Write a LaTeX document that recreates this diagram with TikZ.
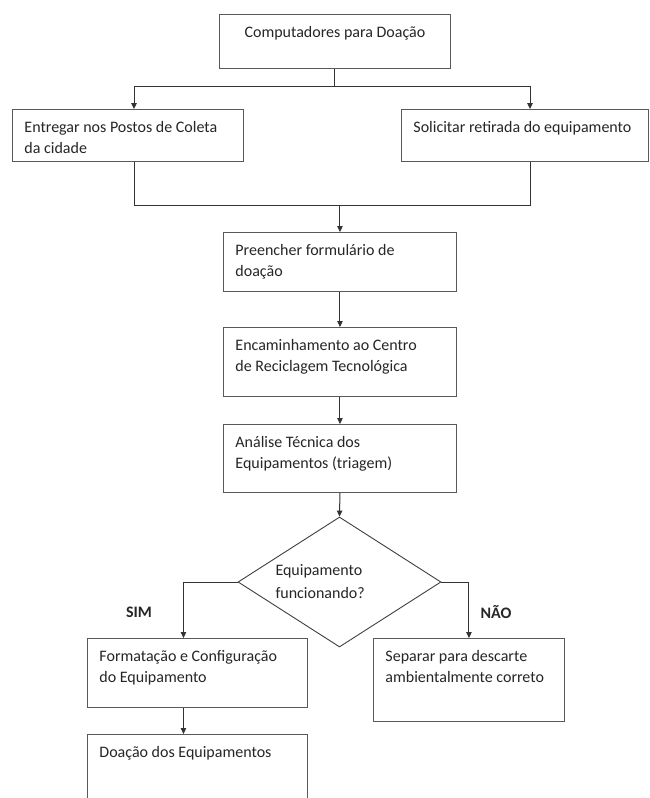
\documentclass[tikz,border=0pt]{standalone}
\usepackage{fontspec}
\setmainfont{Carlito}
\usetikzlibrary{arrows.meta,shapes.geometric}
\newcommand\bxtext[3]{\parbox[c][#2][t]{#1}{\raggedright\rule{0pt}{23pt}#3}}
\newcommand\bxctext[3]{\parbox[c][#2][t]{#1}{\centering\rule{0pt}{23pt}#3}}
\begin{document}
\begin{tikzpicture}[x=1pt,y=-1pt,
  every node/.style={font=\fontsize{16pt}{21.5pt}\selectfont, text=black!85},
  box/.style={draw=black!65, line width=0.9pt, rectangle, anchor=north west,
    inner xsep=12pt, inner ysep=0pt, fill=white},
  dia/.style={draw=black!75, line width=0.9pt, diamond, inner sep=0pt,
    minimum width=203pt, minimum height=130pt},
  ln/.style={draw=black!80, line width=1pt},
  arr/.style={ln, -{Triangle[length=6pt,width=5.5pt]}},
  lbl/.style={font=\fontsize{16pt}{18pt}\selectfont\bfseries}]
\useasboundingbox (0,0) rectangle (649,798);
\fill[white] (0,0) rectangle (649,798);
\clip (0,0) rectangle (649,798);

\node[box] (top) at (219,14) {\bxctext{207pt}{54pt}{\mbox{Computadores para Doação}}};
\node[box] (left) at (12,109) {\bxtext{207pt}{52pt}{\mbox{Entregar nos Postos de Coleta}\\\mbox{da cidade}}};
\node[box] (right) at (401,109) {\bxtext{223pt}{52pt}{\mbox{Solicitar retirada do equipamento}}};
\node[box] (b2) at (223,232) {\bxtext{209pt}{59pt}{\mbox{Preencher formulário de}\\\mbox{doação}}};
\node[box] (b3) at (223,327) {\bxtext{209pt}{69pt}{\mbox{Encaminhamento ao Centro}\\\mbox{de Reciclagem Tecnológica}}};
\node[box] (b4) at (223,424) {\bxtext{209pt}{68pt}{\mbox{Análise Técnica dos}\\\mbox{Equipamentos (triagem)}}};
\node[dia] (dec) at (339.5,582) {\kern-32pt\parbox{96pt}{\raggedright\baselineskip=23pt Equipamento\\funcionando?}};
\node[box] (form) at (87,638) {\bxtext{196pt}{69pt}{\mbox{Formatação e Configuração}\\\mbox{do Equipamento}}};
\node[box] (sep) at (373,638) {\bxtext{167pt}{83pt}{\mbox{Separar para descarte}\\\mbox{ambientalmente correto}}};
\node[box] (doa) at (87,734) {\bxtext{196pt}{90pt}{\mbox{Doação dos Equipamentos}}};

\node[lbl] (sim) at (139,612) {SIM};
\node[lbl] (nao) at (496,612) {NÃO};

\coordinate (a1) at (134,86);
\coordinate (a2) at (530,86);
\coordinate (c1) at (134,205);
\coordinate (c2) at (530,205);

\draw[ln] (top.south) -- (top.south |- a1);
\draw[arr] (top.south |- a1) -| (a1 |- left.north);
\draw[arr] (top.south |- a1) -| (a2 |- right.north);
\draw[ln] (c1 |- left.south) |- (c2) -- (c2 |- right.south);
\draw[arr] (b2.north |- c1) -- (b2.north);
\draw[arr] (b2.south) -- (b3.north);
\draw[arr] (b3.south) -- (b4.north);
\draw[arr] (b4.south) -- (dec.north);
\draw[arr] (dec.west) -| ([xshift=-14pt]form.north);
\draw[arr] (dec.east) -| (sep.north);
\draw[arr] ([xshift=-14pt]form.south) -- ([xshift=-14pt]doa.north);
\end{tikzpicture}
\end{document}
